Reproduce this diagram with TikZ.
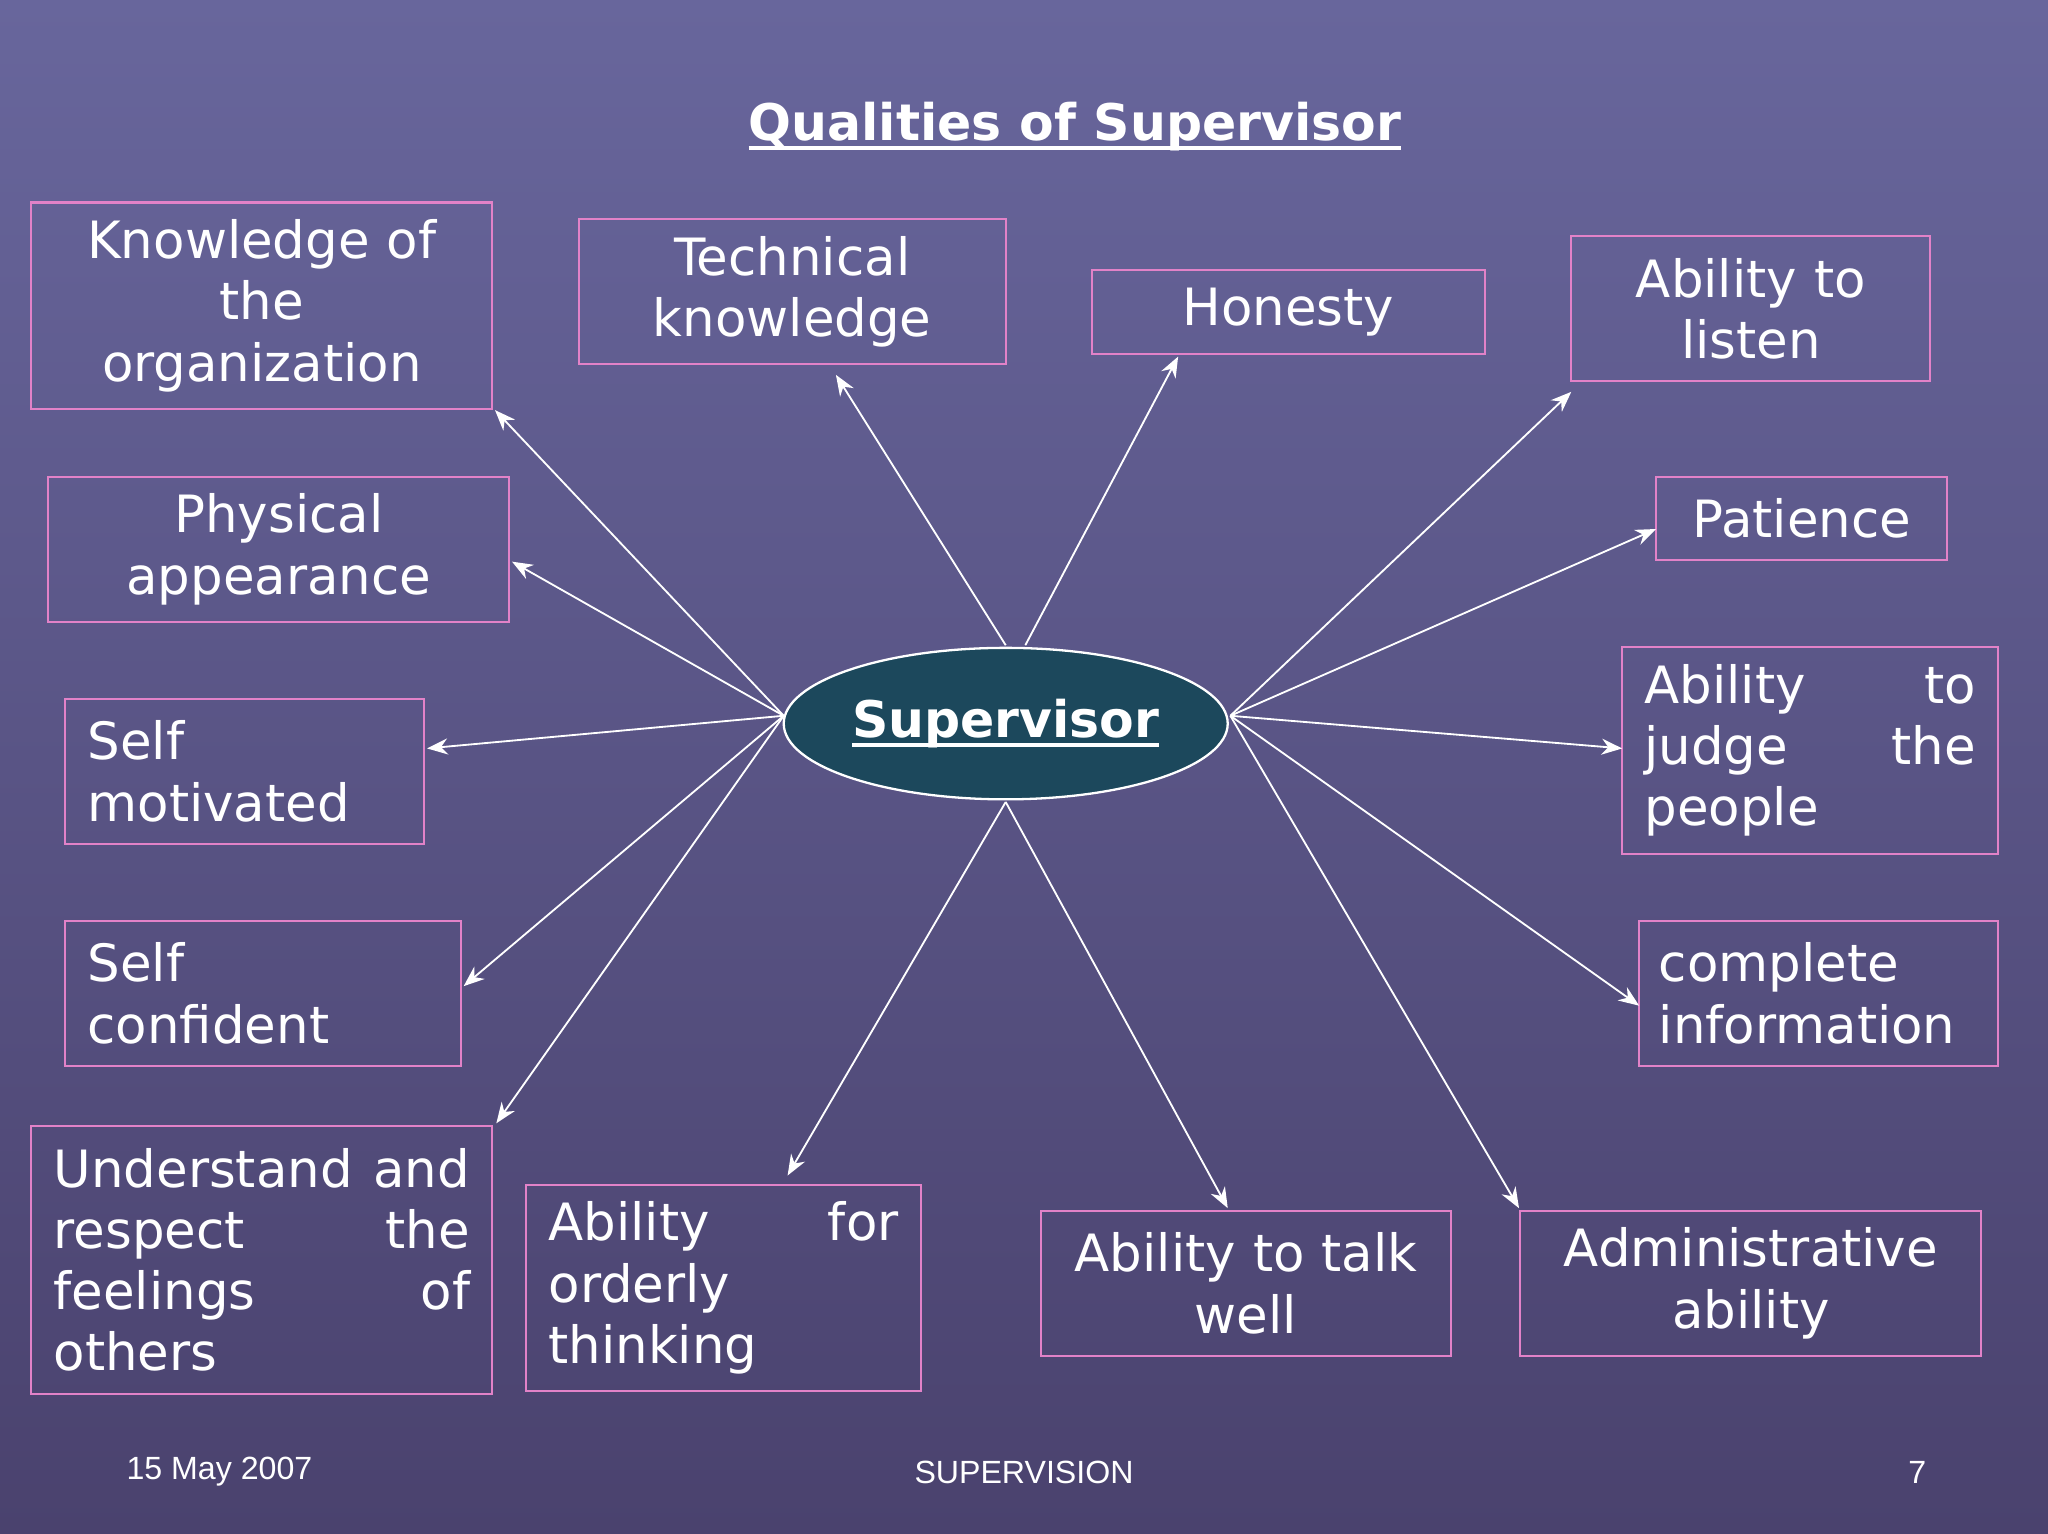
\documentclass[tikz,border=0pt]{standalone}
\usepackage{fontspec}
\setmainfont{DejaVu Sans}
\newfontfamily\footfont{Liberation Sans}
\usetikzlibrary{arrows.meta,shapes.geometric}
\definecolor{bgtop}{RGB}{104,102,156}
\definecolor{bgbot}{RGB}{74,66,110}
\definecolor{boxpink}{RGB}{226,130,200}
\definecolor{ellfill}{RGB}{28,72,92}
\newcommand{\thickul}[1]{\setbox0\hbox{#1}\rlap{\rule[-4pt]{\wd0}{1.5pt}}\box0}
\begin{document}
\begin{tikzpicture}[x=0.02cm,y=-0.02cm,
  qbox/.style={draw=boxpink,line width=0.9pt,inner sep=0pt,text=white,
    font=\fontsize{22.4}{26.7}\selectfont,minimum height=2.22cm},
  link/.style={draw=white,line width=0.8pt,-{Stealth[length=9pt,width=7pt]}}]
\shade[top color=bgtop,bottom color=bgbot] (0,0) rectangle (1568,1174);
\useasboundingbox (0,0) rectangle (1568,1174);
\node[text=white,font=\fontsize{22}{26}\bfseries] (title) at (823,97) {\thickul{Qualities of Supervisor}};
\node[ellipse,draw=white,line width=1pt,fill=ellfill,inner sep=0pt,minimum width=6.8cm,minimum height=2.32cm,text=white,font=\fontsize{22}{26}\bfseries] (sup) at (770,554) {\thickul{Supervisor}};

\node[qbox,minimum width=7.06cm,minimum height=3.16cm,text width=6.5cm,align=center] (k) at (200.5,234) {Knowledge of\\ the\\ organization};
\node[qbox,minimum width=6.54cm,text width=6cm,align=center] (t) at (606.5,223.5) {Technical\\ knowledge};
\node[qbox,minimum width=6.02cm,minimum height=1.28cm,text width=5.5cm,align=center] (h) at (986.5,239) {Honesty};
\node[qbox,minimum width=5.5cm,text width=5cm,align=center] (al) at (1340.5,236.5) {Ability to\\ listen};
\node[qbox,minimum width=4.46cm,minimum height=1.28cm,text width=4.1cm,align=center] (pat) at (1379.5,397) {Patience};
\node[qbox,minimum width=5.76cm,minimum height=3.18cm,text width=5.08cm,align=left] (aj) at (1386,574.5) {Ability\hfill to\\ judge\hfill the\\ people};
\node[qbox,minimum width=5.5cm,text width=4.9cm,align=left] (ci) at (1392.5,760.5) {complete\\ information};
\node[qbox,minimum width=7.06cm,text width=6.6cm,align=center] (adm) at (1340.5,982.5) {Administrative\\ ability};
\node[qbox,minimum width=6.28cm,text width=5.9cm,align=center] (talk) at (954,982.5) {Ability to talk\\ well};
\node[qbox,minimum width=6.04cm,minimum height=3.16cm,text width=5.36cm,align=left] (ord) at (554,986) {Ability\hfill for\\ orderly\\ thinking};
\node[qbox,minimum width=7.06cm,minimum height=4.1cm,text width=6.38cm,align=left] (und) at (200.5,964.5) {Understand\hfill and\\ respect\hfill the\\ feelings\hfill of\\ others};
\node[qbox,minimum width=6.06cm,text width=5.38cm,align=left] (sc) at (201.5,760.5) {Self\\ confident};
\node[qbox,minimum width=5.5cm,text width=4.82cm,align=left] (sm) at (187.5,590.5) {Self\\ motivated};
\node[qbox,minimum width=7.06cm,text width=6.5cm,align=center] (ph) at (213.5,420.5) {Physical\\ appearance};

\coordinate (L) at (600,548);
\coordinate (R) at (942,548);
\coordinate (T1) at (770,494);
\coordinate (T2) at (785,494);
\coordinate (B) at (770,614);
\coordinate (ke) at (379,314);
\coordinate (phe) at (392,430);
\coordinate (sme) at (327,573);
\coordinate (sce) at (355,755);
\coordinate (une) at (380,860);
\coordinate (ore) at (603,900);
\coordinate (tae) at (940,925);
\coordinate (ade) at (1163,925);
\coordinate (cie) at (1255,770);
\coordinate (aje) at (1242,573);
\coordinate (pae) at (1268,405);
\coordinate (ale) at (1203,300);
\coordinate (he) at (902,273);
\coordinate (te) at (640,287);
\draw[link] (L) -- (ke);
\draw[link] (L) -- (phe);
\draw[link] (L) -- (sme);
\draw[link] (L) -- (sce);
\draw[link] (L) -- (une);
\draw[link] (B) -- (ore);
\draw[link] (B) -- (tae);
\draw[link] (R) -- (ade);
\draw[link] (R) -- (cie);
\draw[link] (R) -- (aje);
\draw[link] (R) -- (pae);
\draw[link] (R) -- (ale);
\draw[link] (T2) -- (he);
\draw[link] (T1) -- (te);

\node[text=white,font=\footfont\fontsize{14}{17}\selectfont] (d) at (168,1127) {15 May 2007};
\node[text=white,font=\footfont\fontsize{14}{17}\selectfont] (s) at (784,1127) {SUPERVISION};
\node[text=white,font=\footfont\fontsize{14}{17}\selectfont] (n) at (1468,1127) {7};
\end{tikzpicture}
\end{document}
